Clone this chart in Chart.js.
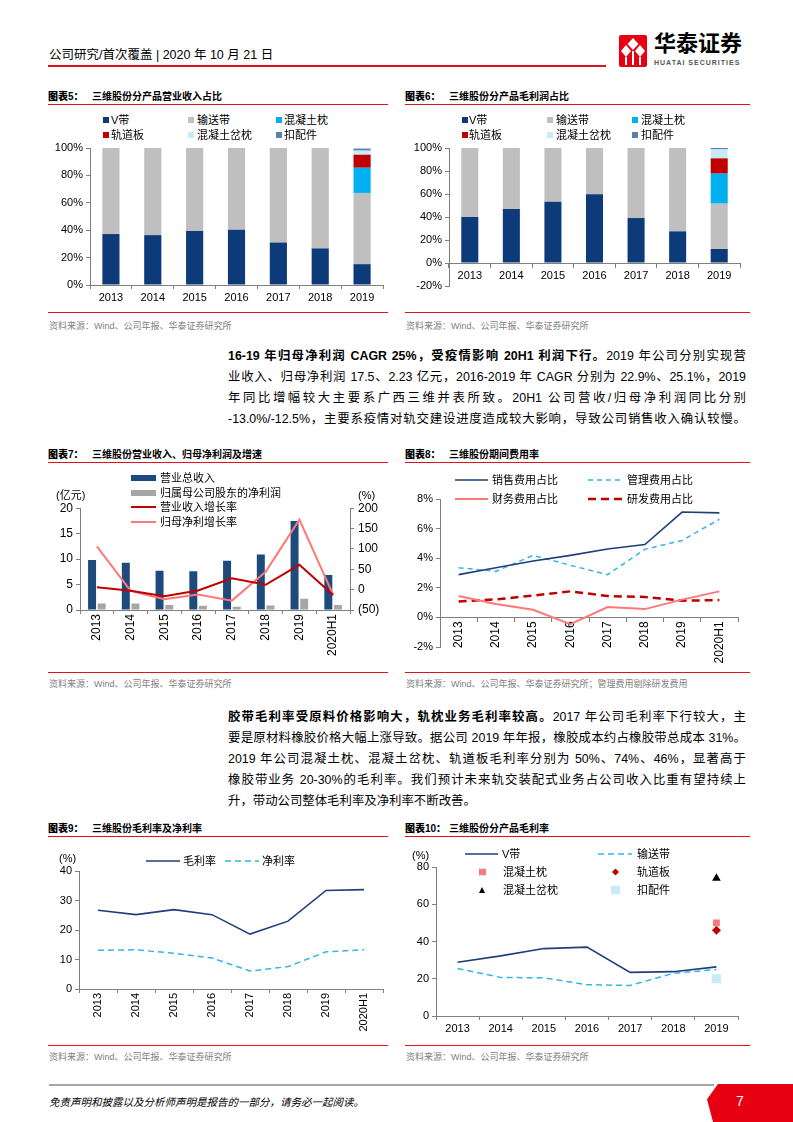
<!DOCTYPE html>
<html>
<head>
<meta charset="utf-8">
<title>三维股份</title>
<script src="https://cdn.jsdelivr.net/npm/chart.js@4.4.0/dist/chart.umd.min.js"></script>
<style>
  html, body { margin: 0; padding: 0; background: #fff; }
  body { position: relative; width: 793px; height: 1122px; overflow: hidden;
         font-family: "Liberation Sans", "Noto Sans CJK SC", sans-serif; color: #000; }
  .a { position: absolute; white-space: nowrap; }
  canvas { position: absolute; }
  .hd { font-size: 12.5px; line-height: 16px; }
  .ttl { font-size: 10px; font-weight: bold; line-height: 14px; }
  .ttl b { display: inline-block; width: 44px; }
  .red { position: absolute; height: 1px; background: #e0121b; }
  .src { font-size: 9px; color: #808080; line-height: 12px; }
  .p { position: absolute; left: 228px; width: 518px; font-size: 12.4px; line-height: 21px;
       text-align: justify; text-align-last: justify; }
  .p.last { text-align-last: left; }
  .lg { position: absolute; font-size: 11px; line-height: 14px; white-space: nowrap; transform: translateY(-50%); }
  .lg svg { display: block; }
</style>
</head>
<body>

<!-- header -->
<div class="a hd" style="left:49px;top:47px">公司研究/首次覆盖 | 2020 年 10 月 21 日</div>
<div class="red" style="left:48px;top:65px;width:558px;height:2px"></div>
<svg class="a" style="left:619px;top:35px" width="28" height="32" viewBox="0 0 28 32">
  <rect width="28" height="32" rx="2" fill="#e60012"/>
  <path d="M14 3L19.5 9L14 15L8.5 9Z" fill="#fff"/>
  <path d="M7 10L12 16L7 22L2 16Z" fill="#fff"/>
  <path d="M21 10L26 16L21 22L16 16Z" fill="#fff"/>
  <rect x="6" y="22" width="2" height="8" fill="#fff"/>
  <rect x="13" y="16" width="2" height="14" fill="#fff"/>
  <rect x="20" y="22" width="2" height="8" fill="#fff"/>
</svg>
<div class="a" style="left:654px;top:32px;font-size:22px;font-weight:bold;line-height:24px">华泰证券</div>
<div class="a" style="left:654px;top:58px;font-size:7px;font-weight:bold;color:#555;letter-spacing:1px;line-height:9px">HUATAI SECURITIES</div>

<!-- chart 5 / 6 -->
<div class="a ttl" style="left:48px;top:90px"><b>图表5：</b>三维股份分产品营业收入占比</div>
<div class="red" style="left:48px;top:104px;width:340px"></div>
<div class="a ttl" style="left:405px;top:90px"><b>图表6：</b>三维股份分产品毛利润占比</div>
<div class="red" style="left:405px;top:104px;width:345px"></div>
<canvas id="c5" width="340" height="169" style="left:48px;top:138px"></canvas>
<canvas id="c6" width="345" height="158" style="left:405px;top:138px"></canvas>
<div class="red" style="left:48px;top:312px;width:340px"></div>
<div class="red" style="left:405px;top:312px;width:345px"></div>
<div class="a src" style="left:49px;top:320px">资料来源：Wind、公司年报、华泰证券研究所</div>
<div class="a src" style="left:406px;top:320px">资料来源：Wind、公司年报、华泰证券研究所</div>

<!-- paragraph 1 -->
<div class="p" style="top:346px"><b>16-19 年归母净利润 CAGR 25%，受疫情影响 20H1 利润下行。</b>2019 年公司分别实现营</div>
<div class="p" style="top:367px">业收入、归母净利润 17.5、2.23 亿元，2016-2019 年 CAGR 分别为 22.9%、25.1%，2019</div>
<div class="p" style="top:388px">年同比增幅较大主要系广西三维并表所致。20H1 公司营收/归母净利润同比分别</div>
<div class="p" style="top:409px">-13.0%/-12.5%，主要系疫情对轨交建设进度造成较大影响，导致公司销售收入确认较慢。</div>

<!-- chart 7 / 8 -->
<div class="a ttl" style="left:48px;top:448px"><b>图表7：</b>三维股份营业收入、归母净利润及增速</div>
<div class="red" style="left:48px;top:462px;width:340px"></div>
<div class="a ttl" style="left:405px;top:448px"><b>图表8：</b>三维股份期间费用率</div>
<div class="red" style="left:405px;top:462px;width:345px"></div>
<canvas id="c7" width="340" height="163" style="left:48px;top:497px"></canvas>
<canvas id="c8" width="345" height="176" style="left:405px;top:489px"></canvas>
<div class="a" style="left:56px;top:488px;font-size:11px;line-height:14px">(亿元)</div>
<div class="a" style="left:358px;top:488px;font-size:11px;line-height:14px">(%)</div>
<div class="red" style="left:48px;top:672px;width:340px"></div>
<div class="red" style="left:405px;top:672px;width:345px"></div>
<div class="a src" style="left:49px;top:678px">资料来源：Wind、公司年报、华泰证券研究所</div>
<div class="a src" style="left:406px;top:678px">资料来源：Wind、公司年报、华泰证券研究所；管理费用剔除研发费用</div>

<!-- paragraph 2 -->
<div class="p" style="top:707px"><b>胶带毛利率受原料价格影响大，轨枕业务毛利率较高。</b>2017 年公司毛利率下行较大，主</div>
<div class="p" style="top:728px">要是原材料橡胶价格大幅上涨导致。据公司 2019 年年报，橡胶成本约占橡胶带总成本 31%。</div>
<div class="p" style="top:749px">2019 年公司混凝土枕、混凝土岔枕、轨道板毛利率分别为 50%、74%、46%，显著高于</div>
<div class="p" style="top:770px">橡胶带业务 20-30%的毛利率。我们预计未来轨交装配式业务占公司收入比重有望持续上</div>
<div class="p last" style="top:791px">升，带动公司整体毛利率及净利率不断改善。</div>

<!-- chart 9 / 10 -->
<div class="a ttl" style="left:48px;top:822px"><b>图表9：</b>三维股份毛利率及净利率</div>
<div class="red" style="left:48px;top:836px;width:340px"></div>
<div class="a ttl" style="left:405px;top:822px"><b>图表10：</b>三维股份分产品毛利率</div>
<div class="red" style="left:405px;top:836px;width:345px"></div>
<canvas id="c9" width="348" height="177" style="left:40px;top:861px"></canvas>
<canvas id="c10" width="345" height="181" style="left:405px;top:857px"></canvas>
<div class="a" style="left:59px;top:851px;font-size:11px;line-height:14px">(%)</div>
<div class="a" style="left:412px;top:848px;font-size:11px;line-height:14px">(%)</div>
<div class="red" style="left:48px;top:1045px;width:340px"></div>
<div class="red" style="left:405px;top:1045px;width:345px"></div>
<div class="a src" style="left:49px;top:1051px">资料来源：Wind、公司年报、华泰证券研究所</div>
<div class="a src" style="left:406px;top:1051px">资料来源：Wind、公司年报、华泰证券研究所</div>

<!-- footer -->
<div class="a" style="left:49px;top:1084px;width:665px;height:2px;background:#a6a6a6"></div>
<div class="a" style="left:707px;top:1084px;width:86px;height:38px;background:#e60012;clip-path:polygon(11px 0,100% 0,100% 100%,6px 100%,0 40%)"></div>
<div class="a" style="left:736px;top:1092px;font-size:14px;line-height:18px;color:#fff">7</div>
<div class="a" style="left:49px;top:1095px;font-size:10.5px;font-style:italic;line-height:14px">免责声明和披露以及分析师声明是报告的一部分，请务必一起阅读。</div>

<script>
// ---- data ----
const years = ['2013', '2014', '2015', '2016', '2017', '2018', '2019'];
const yearsH1 = ['2013', '2014', '2015', '2016', '2017', '2018', '2019', '2020H1'];
const products = ['V带', '输送带', '混凝土枕', '轨道板', '混凝土岔枕', '扣配件'];

// 图表5 营业收入占比 (%)
const revVbelt = [37.2, 36.4, 39.4, 40.3, 31.0, 26.7, 15.2];
const revConveyor = [62.8, 63.6, 60.6, 59.7, 69.0, 73.3, 52.0];
const revSleeper = [null, null, null, null, null, null, 18.4];
const revTrackSlab = [null, null, null, null, null, null, 9.5];
const revTurnout = [null, null, null, null, null, null, 3.0];
const revFastener = [null, null, null, null, null, null, 1.5];

// 图表6 毛利润占比 (%)
const gpVbelt = [40.0, 47.0, 53.3, 59.7, 39.1, 27.5, 12.2];
const gpConveyor = [60.0, 53.0, 46.7, 40.3, 60.9, 72.5, 39.4];
const gpSleeper = [null, null, null, null, null, null, 26.1];
const gpTrackSlab = [null, null, null, null, null, null, 13.3];
const gpTurnout = [null, null, null, null, null, null, 7.8];
const gpFastener = [null, null, null, null, null, null, 1.2];

// 图表7 营业收入、归母净利润 (亿元) 及增速 (%)
const revenue = [9.8, 9.3, 7.7, 7.6, 9.7, 10.9, 17.5, 6.9];
const netProfit = [1.3, 1.3, 1.0, 0.85, 0.65, 0.9, 2.23, 1.0];
const revGrowth = [6, -3, -16, -2, 28, 12, 61, -13];
const npGrowth = [106, -3, -23.5, -12, -27, 44, 172, -12.5];

// 图表8 期间费用率 (%)
const salesRatio = [2.89, 3.36, 3.81, 4.19, 4.62, 4.92, 7.12, 7.06];
const adminRatio = [3.36, 3.11, 4.19, 3.52, 2.89, 4.60, 5.20, 6.63];
const financeRatio = [1.44, 0.90, 0.52, -0.45, 0.70, 0.56, 1.20, 1.76];
const rndRatio = [1.08, 1.22, 1.47, 1.76, 1.44, 1.38, 1.13, 1.17];

// 图表9 毛利率及净利率 (%)
const grossMargin = [26.7, 25.2, 26.9, 25.2, 18.6, 23.0, 33.4, 33.7];
const netMargin = [13.1, 13.3, 12.1, 10.5, 6.1, 7.6, 12.6, 13.3];

// 图表10 分产品毛利率 (%)
const gmVbelt = [28.9, 32.3, 36.2, 37.0, 23.4, 23.8, 26.4];
const gmConveyor = [25.5, 20.7, 20.5, 16.8, 16.4, 22.9, 25.0];
const gmSleeper = [null, null, null, null, null, null, 50];
const gmTrackSlab = [null, null, null, null, null, null, 46];
const gmTurnout = [null, null, null, null, null, null, 74];
const gmFastener = [null, null, null, null, null, null, 20];

// ---- colours ----
const NAVY = '#0d3a78';
const GREY = '#bfbfbf';
const CYAN = '#00b0f0';
const DARKRED = '#c00000';
const PALECYAN = '#c6ecfa';
const STEEL = '#5a80ad';
const productColors = [NAVY, GREY, CYAN, DARKRED, PALECYAN, STEEL];
const LINEBLUE = '#1f3f7a';
const DASHBLUE = '#33b5e8';
const PINK = '#ff7878';
const AXIS = '#808080';

Chart.defaults.font.family = '"Liberation Sans", "Noto Sans CJK SC", sans-serif';
Chart.defaults.font.size = 11;
Chart.defaults.color = '#000';
Chart.defaults.animation = false;
Chart.defaults.responsive = false;
Chart.defaults.plugins.legend.display = false;
Chart.defaults.plugins.tooltip.enabled = false;

function catAxis(o) {
  const ax = {
    type: 'category',
    offset: true,
    stacked: !!o.stacked,
    grid: { drawOnChartArea: false, tickLength: 4, color: AXIS, offset: true },
    border: { color: AXIS },
    ticks: { color: '#000', font: { size: o.size || 11 }, padding: o.pad, autoSkip: false,
             minRotation: o.rot || 0, maxRotation: o.rot || 0 }
  };
  if (o.atZero) {
    ax.position = { y: 0 };
  } else {
    ax.position = 'bottom';
    ax.afterFit = s => { s.height = o.h; };
  }
  return ax;
}

function valAxis(o) {
  return {
    position: o.position || 'left',
    min: o.min, max: o.max,
    stacked: !!o.stacked,
    grid: { drawOnChartArea: false, tickLength: 4, color: AXIS },
    border: { color: AXIS },
    ticks: { color: '#000', font: { size: o.size || 11 }, padding: o.pad || 3,
             stepSize: o.step, callback: o.fmt || (v => v) },
    afterFit: s => { s.width = o.w; }
  };
}

const pct = v => v + '%';

// ---- 图表5 / 图表6: stacked share bars ----
function shareChart(id, series, yMin, pad, yw, xAxis) {
  new Chart(document.getElementById(id), {
    type: 'bar',
    data: {
      labels: years,
      datasets: series.map((d, i) => ({
        label: products[i], data: d, backgroundColor: productColors[i], borderWidth: 0
      }))
    },
    options: {
      layout: { padding: pad },
      datasets: { bar: { categoryPercentage: 1, barPercentage: 0.41 } },
      scales: {
        x: xAxis,
        y: valAxis({ min: yMin, max: 100, step: 20, fmt: pct, w: yw, stacked: true })
      }
    }
  });
}

shareChart('c5', [revVbelt, revConveyor, revSleeper, revTrackSlab, revTurnout, revFastener],
  0, { top: 10, right: 5, bottom: 0, left: 0 }, 42,
  catAxis({ stacked: true, h: 22, pad: 2 }));

shareChart('c6', [gpVbelt, gpConveyor, gpSleeper, gpTrackSlab, gpTurnout, gpFastener],
  -20, { top: 10, right: 10, bottom: 10, left: 0 }, 44,
  catAxis({ stacked: true, atZero: true, pad: 2 }));

// ---- 图表7 ----
new Chart(document.getElementById('c7'), {
  type: 'bar',
  data: {
    labels: yearsH1,
    datasets: [
      { type: 'line', label: '营业收入增长率', data: revGrowth, yAxisID: 'y1', borderColor: DARKRED,
        borderWidth: 2, pointRadius: 0, tension: 0, order: 1 },
      { type: 'line', label: '归母净利增长率', data: npGrowth, yAxisID: 'y1', borderColor: PINK,
        borderWidth: 2, pointRadius: 0, tension: 0, order: 1 },
      { label: '营业总收入', data: revenue, yAxisID: 'y', backgroundColor: '#1f4a7c', order: 2,
        categoryPercentage: 0.57, barPercentage: 0.83 },
      { label: '归属母公司股东的净利润', data: netProfit, yAxisID: 'y', backgroundColor: '#a6a6a6', order: 2,
        categoryPercentage: 0.57, barPercentage: 0.83 }
    ]
  },
  options: {
    layout: { padding: { top: 10, right: 0, bottom: 0, left: 0 } },
    scales: {
      x: catAxis({ h: 50, rot: 90, size: 12, pad: 0 }),
      y: valAxis({ min: 0, max: 20, step: 5, w: 32, size: 12 }),
      y1: valAxis({ position: 'right', min: -50, max: 200, step: 50, w: 38, size: 12, pad: 4,
                    fmt: v => (v < 0 ? '(' + (-v) + ')' : v) })
    }
  }
});

// ---- 图表8 ----
new Chart(document.getElementById('c8'), {
  type: 'line',
  data: {
    labels: yearsH1,
    datasets: [
      { label: '销售费用占比', data: salesRatio, borderColor: LINEBLUE, borderWidth: 1.6 },
      { label: '管理费用占比', data: adminRatio, borderColor: DASHBLUE, borderWidth: 1.5, borderDash: [5, 4] },
      { label: '财务费用占比', data: financeRatio, borderColor: PINK, borderWidth: 2 },
      { label: '研发费用占比', data: rndRatio, borderColor: DARKRED, borderWidth: 2.5, borderDash: [8, 5] }
    ]
  },
  options: {
    elements: { point: { radius: 0 }, line: { tension: 0 } },
    layout: { padding: { top: 10, right: 12, bottom: 18, left: 0 } },
    scales: {
      x: catAxis({ atZero: true, rot: 90, size: 12, pad: 0 }),
      y: valAxis({ min: -2, max: 8, step: 2, fmt: pct, w: 35 })
    }
  }
});

// ---- 图表9 ----
new Chart(document.getElementById('c9'), {
  type: 'line',
  data: {
    labels: yearsH1,
    datasets: [
      { label: '毛利率', data: grossMargin, borderColor: LINEBLUE, borderWidth: 1.6 },
      { label: '净利率', data: netMargin, borderColor: DASHBLUE, borderWidth: 1.5, borderDash: [6, 4] }
    ]
  },
  options: {
    elements: { point: { radius: 0 }, line: { tension: 0 } },
    layout: { padding: { top: 10, right: 5, bottom: 0, left: 0 } },
    scales: {
      x: catAxis({ h: 49, rot: 90, size: 11, pad: 0 }),
      y: valAxis({ min: 0, max: 40, step: 5, w: 39 })
    }
  }
});

// ---- 图表10 ----
new Chart(document.getElementById('c10'), {
  type: 'line',
  data: {
    labels: years,
    datasets: [
      { label: '混凝土岔枕', data: gmTurnout, showLine: false, pointStyle: 'triangle', pointRadius: 5,
        backgroundColor: '#000', borderColor: '#000', borderWidth: 0 },
      { label: '混凝土枕', data: gmSleeper, showLine: false, pointStyle: 'rect', pointRadius: 4.8,
        backgroundColor: '#f47c7c', borderWidth: 0 },
      { label: '轨道板', data: gmTrackSlab, showLine: false, pointStyle: 'rectRot', pointRadius: 4.5,
        backgroundColor: DARKRED, borderColor: DARKRED, borderWidth: 0 },
      { label: '扣配件', data: gmFastener, showLine: false, pointStyle: 'rect', pointRadius: 6.5,
        backgroundColor: PALECYAN, borderWidth: 0 },
      { label: 'V带', data: gmVbelt, borderColor: LINEBLUE, borderWidth: 1.6, pointRadius: 0 },
      { label: '输送带', data: gmConveyor, borderColor: DASHBLUE, borderWidth: 1.5, borderDash: [6, 4], pointRadius: 0 }
    ]
  },
  options: {
    elements: { line: { tension: 0 } },
    layout: { padding: { top: 10, right: 12, bottom: 0, left: 0 } },
    scales: {
      x: catAxis({ h: 22, pad: 2 }),
      y: valAxis({ min: 0, max: 80, step: 20, w: 31 })
    }
  }
});

// ---- html legends ----
const mark = {
  box: (c, w, h) => `<svg width="${w}" height="${h}"><rect width="${w}" height="${h}" fill="${c}"/></svg>`,
  line: (c, w, lw, dash) => `<svg width="${w}" height="4"><line x1="0" y1="2" x2="${w}" y2="2" stroke="${c}" stroke-width="${lw}"` +
    (dash ? ` stroke-dasharray="${dash.join(' ')}"` : '') + `/></svg>`,
  diamond: (c, s) => `<svg width="${s}" height="${s}"><path d="M${s / 2} 0L${s} ${s / 2}L${s / 2} ${s}L0 ${s / 2}Z" fill="${c}"/></svg>`,
  tri: (c, s) => `<svg width="${s}" height="${s}"><path d="M${s / 2} 0L${s} ${s}L0 ${s}Z" fill="${c}"/></svg>`
};

function legend(items) {
  items.forEach(it => {
    const m = document.createElement('div');
    m.className = 'lg';
    m.style.left = it.sx + 'px';
    m.style.top = it.y + 'px';
    m.innerHTML = it.mark;
    document.body.appendChild(m);
    const t = document.createElement('div');
    t.className = 'lg';
    t.style.left = it.tx + 'px';
    t.style.top = it.y + 'px';
    t.textContent = it.text;
    document.body.appendChild(t);
  });
}

function productLegend(xs, txs) {
  const rows = [120, 135];
  products.forEach((p, i) => {
    legend([{ sx: xs[i % 3], tx: txs[i % 3], y: rows[Math.floor(i / 3)], mark: mark.box(productColors[i], 6, 6), text: p }]);
  });
}
productLegend([103, 188, 276], [111, 197, 284]);
productLegend([462, 547, 632], [469, 556, 641]);

legend([
  { sx: 131, tx: 160, y: 478, mark: mark.box('#1f4a7c', 25, 6), text: '营业总收入' },
  { sx: 131, tx: 160, y: 492.5, mark: mark.box('#a6a6a6', 25, 6), text: '归属母公司股东的净利润' },
  { sx: 131, tx: 160, y: 507, mark: mark.line(DARKRED, 25, 2), text: '营业收入增长率' },
  { sx: 131, tx: 160, y: 521.5, mark: mark.line(PINK, 25, 2), text: '归母净利增长率' }
]);

legend([
  { sx: 455, tx: 492, y: 480, mark: mark.line(LINEBLUE, 33, 1.6), text: '销售费用占比' },
  { sx: 588, tx: 627, y: 480, mark: mark.line(DASHBLUE, 34, 1.5, [5, 4]), text: '管理费用占比' },
  { sx: 455, tx: 492, y: 499, mark: mark.line(PINK, 33, 2), text: '财务费用占比' },
  { sx: 588, tx: 627, y: 499, mark: mark.line(DARKRED, 34, 2.5, [8, 5]), text: '研发费用占比' }
]);

legend([
  { sx: 146, tx: 183, y: 861, mark: mark.line(LINEBLUE, 34, 1.6), text: '毛利率' },
  { sx: 225, tx: 262, y: 861, mark: mark.line(DASHBLUE, 34, 1.5, [6, 4]), text: '净利率' }
]);

legend([
  { sx: 465, tx: 502, y: 854, mark: mark.line(LINEBLUE, 33, 1.6), text: 'V带' },
  { sx: 598, tx: 637, y: 854, mark: mark.line(DASHBLUE, 34, 1.5, [6, 4]), text: '输送带' },
  { sx: 478.5, tx: 503, y: 872, mark: mark.box('#f47c7c', 7, 7), text: '混凝土枕' },
  { sx: 611.5, tx: 637, y: 872, mark: mark.diamond(DARKRED, 7), text: '轨道板' },
  { sx: 479, tx: 503, y: 890, mark: mark.tri('#000', 6), text: '混凝土岔枕' },
  { sx: 610.5, tx: 637, y: 890, mark: mark.box(PALECYAN, 9, 9), text: '扣配件' }
]);
</script>
</body>
</html>
